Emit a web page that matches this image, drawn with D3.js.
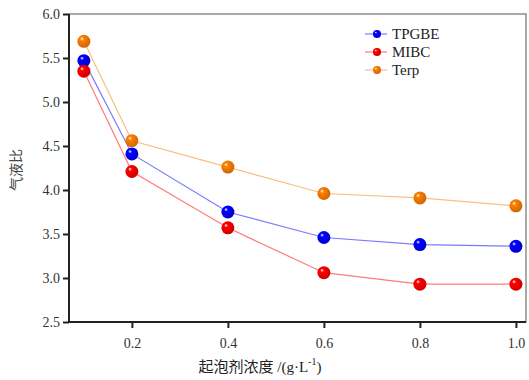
<!DOCTYPE html>
<html>
<head>
<meta charset="utf-8">
<script src="https://cdn.jsdelivr.net/npm/d3@7"></script>
<style>
body { margin: 0; background: #fff; }
svg { display: block; }
</style>
</head>
<body>
<svg width="529" height="380"></svg>
<script>
// data
const concentrations = [0.1, 0.2, 0.4, 0.6, 0.8, 1.0];
const tpgbe = [5.47, 4.41, 3.75, 3.46, 3.38, 3.36];
const mibc = [5.35, 4.21, 3.57, 3.06, 2.93, 2.93];
const terp = [5.69, 4.56, 4.26, 3.96, 3.91, 3.82];
const xTicks = [0.2, 0.4, 0.6, 0.8, 1.0];
const yTicks = [2.5, 3.0, 3.5, 4.0, 4.5, 5.0, 5.5, 6.0];

const series = [
    {name: "TPGBE", values: tpgbe, dot: "#0000ff", line: "#7b7bff", id: "gBlue"},
    {name: "MIBC", values: mibc, dot: "#ff0000", line: "#ff7b7b", id: "gRed"},
    {name: "Terp", values: terp, dot: "#ff8000", line: "#f8bf80", id: "gOrange"}
];

const svg = d3.select("svg");
const plotLeft = 69, plotRight = 526, plotTop = 14, plotBottom = 322;
const serif = "'Liberation Serif', 'Times New Roman', serif";
const cjk = "'Liberation Serif', 'Noto Sans CJK SC', serif";

let x = d3.scaleLinear()
    .domain([0.069, 1.021])
    .range([plotLeft, plotRight]);

let y = d3.scaleLinear()
    .domain([2.5, 6.0])
    .range([plotBottom, plotTop]);

// shiny ball gradients
let defs = svg.append("defs");
series.forEach(function(s) {
    let g = defs.append("radialGradient")
        .attr("id", s.id)
        .attr("cx", "40%").attr("cy", "40%").attr("r", "60%")
        .attr("fx", "35%").attr("fy", "30%");
    g.append("stop").attr("offset", "0%").attr("stop-color", "#ffffff");
    g.append("stop").attr("offset", "25%").attr("stop-color", s.dot);
    g.append("stop").attr("offset", "100%").attr("stop-color", d3.color(s.dot).darker(0.6));
});

// frame
svg.append("rect")
    .attr("x", plotLeft).attr("y", plotTop)
    .attr("width", plotRight - plotLeft).attr("height", plotBottom - plotTop)
    .attr("fill", "none").attr("stroke", "#555").attr("stroke-width", 1);

let yAxis = svg.append("g")
    .attr("transform", "translate(" + plotLeft + ",0)")
    .call(d3.axisLeft(y).tickValues(yTicks).tickFormat(d3.format(".1f")).tickSize(6).tickPadding(3));

let xAxis = svg.append("g")
    .attr("transform", "translate(0," + plotBottom + ")")
    .call(d3.axisBottom(x).tickValues(xTicks).tickFormat(d3.format(".1f")).tickSize(6).tickPadding(10));

[xAxis, yAxis].forEach(function(a) {
    a.select(".domain").attr("stroke", "#222").attr("stroke-width", 2);
    a.selectAll(".tick line").attr("stroke", "#222").attr("stroke-width", 2);
    a.selectAll("text")
        .attr("font-family", serif)
        .attr("font-size", 14)
        .attr("fill", "#333");
});
xAxis.select(".domain").attr("d", "M" + plotLeft + ",0H" + plotRight);
yAxis.select(".domain").attr("d", "M0," + plotBottom + "V" + plotTop);

let line = d3.line()
    .x((d, i) => x(concentrations[i]))
    .y(d => y(d));

series.forEach(function(s) {
    svg.append("path")
        .datum(s.values)
        .attr("d", line)
        .attr("fill", "none")
        .attr("stroke", s.line)
        .attr("stroke-width", 1.2);
});

series.forEach(function(s) {
    svg.selectAll(".dot-" + s.id)
        .data(s.values)
        .enter()
        .append("circle")
        .attr("cx", (d, i) => x(concentrations[i]))
        .attr("cy", d => y(d))
        .attr("r", 6.5)
        .attr("fill", "url(#" + s.id + ")");
});

// legend
let legend = svg.append("g");
series.forEach(function(s, i) {
    let ly = 34 + i * 18;
    legend.append("line")
        .attr("x1", 365).attr("x2", 387)
        .attr("y1", ly).attr("y2", ly)
        .attr("stroke", s.line).attr("stroke-width", 1.2);
    legend.append("circle")
        .attr("cx", 377).attr("cy", ly).attr("r", 4)
        .attr("fill", "url(#" + s.id + ")");
    legend.append("text")
        .attr("x", 392).attr("y", ly + 5)
        .attr("font-family", serif)
        .attr("font-size", 15)
        .attr("fill", "#222")
        .text(s.name);
});

// axis titles
svg.append("text")
    .attr("transform", "translate(21,170) rotate(-90)")
    .attr("text-anchor", "middle")
    .attr("font-family", cjk)
    .attr("font-size", 14)
    .attr("fill", "#444")
    .text("气液比");

let xt = svg.append("text")
    .attr("x", 260).attr("y", 372)
    .attr("text-anchor", "middle")
    .attr("font-family", cjk)
    .attr("font-size", 15)
    .attr("fill", "#222");
xt.append("tspan").text("起泡剂浓度 /(g·L");
xt.append("tspan").attr("dy", -7).attr("font-size", 10).text("-1");
xt.append("tspan").attr("dy", 7).text(")");
</script>
</body>
</html>
